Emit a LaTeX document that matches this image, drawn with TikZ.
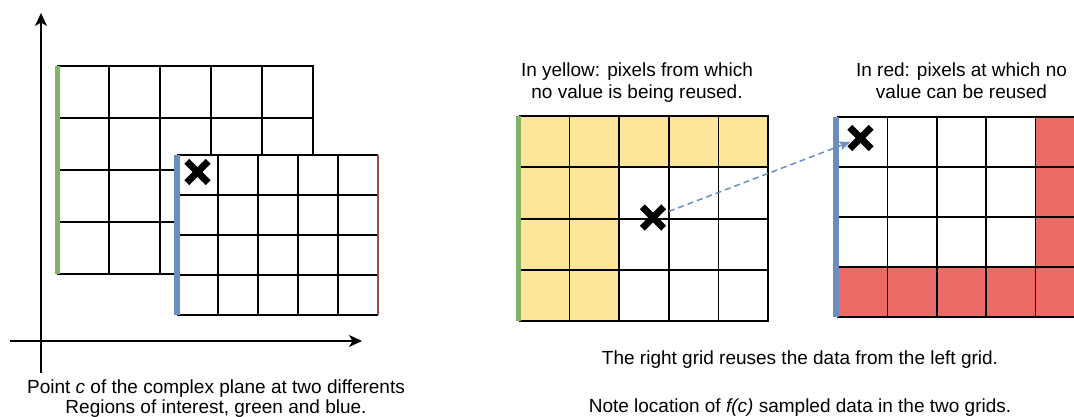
\documentclass[tikz,border=0pt]{standalone}
\usepackage{fontspec}
\setmainfont{Liberation Sans}
\usetikzlibrary{arrows.meta}

\definecolor{roigreen}{HTML}{82B366}
\definecolor{roiblue}{HTML}{6C8EBF}
\definecolor{skipyellow}{HTML}{FFE599}
\definecolor{noreusered}{HTML}{EA6B66}
\definecolor{edgered}{HTML}{9C4A46}

\tikzset{
  cell/.style={draw=black, line width=1.5pt},
  rowline/.style={draw=black, line width=2pt},
  roibar/.style={line width=5.5pt},
  axis/.style={draw=black, line width=1.3pt, -{Stealth[length=13pt,width=12pt,inset=3.5pt]}},
  xmark/.style={inner sep=0pt, minimum size=21pt},
  xstroke/.style={draw=black, line width=7pt},
  reuse/.style={draw=roiblue, line width=1.5pt, dash pattern=on 6pt off 4pt,
    -{Stealth[length=11pt,width=9pt,inset=2.5pt]}, shorten <=17pt, shorten >=11pt},
  caption/.style={align=center, anchor=base, inner sep=0pt,
    font=\fontsize{19}{20}\selectfont},
}

\begin{document}
\begin{tikzpicture}[x=1pt, y=-1pt]
\useasboundingbox[fill=white] (0,0) rectangle (1074,417);

% ---- complex plane axes
\coordinate (ybot) at (41,373);
\coordinate (ytop) at (41,13);
\coordinate (xleft) at (10,341);
\coordinate (xright) at (362,341);
\draw[axis] (ybot) -- (ytop);
\draw[axis] (xleft) -- (xright);

% ---- green region of interest (5 x 4 cells)
\draw[cell] (58,66) rectangle (313,274);
\foreach \x in {109,160,211,262} \draw[cell] (\x,66) -- (\x,274);
\foreach \y in {118,170,222} \draw[rowline] (58,\y) -- (313,\y);

% ---- blue region of interest, overlapping the green one
\fill[white] (178,155) rectangle (378,315);
\foreach \x in {218,258,298,338} \draw[cell] (\x,155) -- (\x,315);
\foreach \y in {195,235,275} \draw[cell] (178,\y) -- (378,\y);
\draw[cell] (378,155) -- (178,155) -- (178,315) -- (378,315);
\draw[draw=edgered, line width=1.2pt] (378,155) -- (378,315);

\draw[roibar, roigreen] (57.5,66) -- (57.5,274);
\draw[roibar, roiblue] (177,155) -- (177,315);

\node[xmark] (cleft) at (197.5,172) {};
\draw[xstroke] (cleft.north west) -- (cleft.south east)
               (cleft.north east) -- (cleft.south west);

% the base anchor of a multi-line node sits on its last line
\node[caption] (capleft) at (216,413)
  {Point \textit{c} of the complex plane at two differents\\Regions of interest, green and blue.};

% ---- left grid of the reuse example (green region)
\fill[skipyellow] (520,116) rectangle (768,167.25);
\fill[skipyellow] (520,167.25) rectangle (619.2,321);
\draw[cell] (520,116) rectangle (768,321);
\foreach \x in {569.6,619.2,668.8,718.4} \draw[cell] (\x,116) -- (\x,321);
\foreach \y in {167.25,218.5,269.75} \draw[rowline] (520,\y) -- (768,\y);
\draw[roibar, roigreen] (518.7,116) -- (518.7,321);

% ---- right grid of the reuse example (blue region)
\fill[noreusered] (1035.6,117) rectangle (1085,317);
\fill[noreusered] (838,267) rectangle (1085,317);
\draw[cell] (838,117) rectangle (1085,317);
\foreach \x in {887.4,936.8,986.2,1035.6} \draw[cell] (\x,117) -- (\x,317);
\foreach \y in {167,217,267} \draw[rowline] (838,\y) -- (1085,\y);
\draw[roibar, roiblue] (836,117) -- (836,317);

% ---- sampled point in both grids
\node[xmark] (cmid) at (653,217.5) {};
\draw[xstroke] (cmid.north west) -- (cmid.south east)
               (cmid.north east) -- (cmid.south west);
\node[xmark] (cright) at (860.5,138) {};
\draw[xstroke] (cright.north west) -- (cright.south east)
               (cright.north east) -- (cright.south west);
\draw[reuse] (cmid.center) -- (cright.center);

% ---- labels
\node[caption, font=\fontsize{19}{22.5}\selectfont] (capyellow) at (637,99)
  {In yellow: pixels from which\\no value is being reused.};
\node[caption, font=\fontsize{19}{22.5}\selectfont] (capred) at (961.5,99)
  {In red: pixels at which no\\value can be reused};
\node[caption, font=\fontsize{19}{48}\selectfont] (capreuse) at (800,412)
  {The right grid reuses the data from the left grid.\\Note location of \textit{f(c)} sampled data in the two grids.};
\end{tikzpicture}
\end{document}
